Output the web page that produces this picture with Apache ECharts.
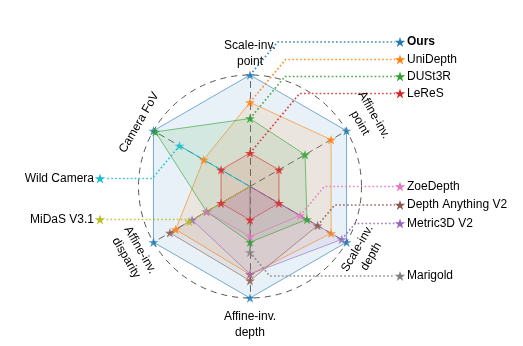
<!DOCTYPE html>
<html><head><meta charset="utf-8">
<script src="https://cdn.jsdelivr.net/npm/echarts@6/dist/echarts.min.js"></script>
<style>html,body{margin:0;padding:0;background:#fff}#c{width:523px;height:346px}</style>
</head><body><div id="c"></div>
<script>
// Axes, counter-clockwise from the top
const axisNames = ['Scale-inv.\npoint', 'Camera FoV', 'Affine-inv.\ndisparity', 'Affine-inv.\ndepth', 'Scale-inv.\ndepth', 'Affine-inv.\npoint'];
const seriesNames = ['Ours', 'UniDepth', 'DUSt3R', 'LeReS', 'ZoeDepth', 'Depth Anything V2', 'Metric3D V2', 'Marigold', 'Wild Camera', 'MiDaS V3.1'];
// values per axis (same order as axisNames); null = not evaluated
const ours            = [1.00, 1.00, 1.00, 1.00, 1.00, 1.00];
const uniDepth        = [0.755, 0.48, 0.77, 0.79, 0.84, 0.84];
const dust3r          = [0.61, 0.98, 0.45, 0.50, 0.59, 0.57];
const leres           = [0.30, 0.30, 0.30, 0.30, 0.30, 0.30];
const zoeDepth        = [null, null, 0.45, 0.45, 0.52, null];
const depthAnythingV2 = [null, null, 0.83, 0.845, 0.70, null];
const metric3dV2      = [null, null, 0.60, 0.785, 0.95, null];
const marigold        = [null, null, null, 0.59, null, null];
const wildCamera      = [null, 0.73, null, null, null, null];
const midas           = [null, null, 0.63, null, null, null];
const allValues = [ours, uniDepth, dust3r, leres, zoeDepth, depthAnythingV2, metric3dV2, marigold, wildCamera, midas];

// styling / layout
const colors = ['#1f77b4', '#ff7f0e', '#2ca02c', '#d62728', '#e377c2', '#8c564b', '#9467bd', '#7f7f7f', '#17becf', '#bcbd22'];
const CX = 250, CY = 186.5, R = 111.5;
const FONT = '12px "Liberation Sans", Arial, sans-serif';
const STAR_PTS = [[0,-10],[2.245,-3.09],[9.51,-3.09],[3.633,1.18],[5.88,8.09],[0,3.82],[-5.88,8.09],[-3.633,1.18],[-9.51,-3.09],[-2.245,-3.09]];
const STAR = 'M' + STAR_PTS.map(p => p.join(',')).join('L') + 'Z';
const labelLayout = [
  {dist: 132.5, rot: 0}, {dist: 128, rot: 60}, {dist: 135, rot: -60},
  {dist: 138.5, rot: 0}, {dist: 132, rot: 60}, {dist: 135, rot: -60}
];
// legend anchor: which axis the leader starts from, legend row y, side
const legendLayout = [
  {axis: 0, y: 42, side: 'r'}, {axis: 0, y: 59.5, side: 'r'}, {axis: 0, y: 76.5, side: 'r'}, {axis: 0, y: 93.5, side: 'r'},
  {axis: 4, y: 186.5, side: 'r'}, {axis: 4, y: 205, side: 'r'}, {axis: 4, y: 223.5, side: 'r'},
  {axis: 3, y: 276, side: 'r'}, {axis: 1, y: 178.5, side: 'l'}, {axis: 2, y: 219.5, side: 'l'}
];

const chart = echarts.init(document.getElementById('c'));
const series = [];
allValues.forEach((v, k) => {
  series.push({
    type: 'radar', name: seriesNames[k], symbol: 'none', silent: true, z: 2,
    lineStyle: {color: colors[k], width: 1, opacity: 0.6},
    areaStyle: {color: colors[k], opacity: 0.1},
    data: [{value: v.map(x => x == null ? '-' : x)}]
  });
});
allValues.forEach((v, k) => {
  series.push({
    type: 'scatter', coordinateSystem: 'polar', polarIndex: 0, silent: true, z: 5,
    symbol: 'path://' + STAR, symbolSize: [10, 9.5],
    itemStyle: {color: colors[k]},
    data: v.map((x, i) => x == null ? null : [x, i * 60]).filter(Boolean)
  });
});

chart.setOption({
  animation: false,
  radar: {
    center: [CX, CY], radius: R, startAngle: 90, shape: 'circle', splitNumber: 1,
    indicator: axisNames.map(n => ({name: n, min: 0, max: 1})),
    axisName: {show: false},
    splitLine: {lineStyle: {color: '#555', width: 1, type: [6, 5]}},
    splitArea: {show: false},
    axisLine: {lineStyle: {color: '#666', width: 1, type: [6, 5]}},
    axisTick: {show: false}, axisLabel: {show: false}
  },
  polar: {center: [CX, CY], radius: R},
  angleAxis: {type: 'value', min: 0, max: 360, startAngle: 90, clockwise: false, show: false,
    axisLine: {show: false}, splitLine: {show: false}, axisLabel: {show: false}, axisTick: {show: false}},
  radiusAxis: {type: 'value', min: 0, max: 1, show: false,
    axisLine: {show: false}, splitLine: {show: false}, axisLabel: {show: false}, axisTick: {show: false}},
  series: series
});

const graphic = [];
// axis names
axisNames.forEach((n, i) => {
  const th = i * 60 * Math.PI / 180;
  const L = labelLayout[i];
  graphic.push({
    type: 'text', x: CX - L.dist * Math.sin(th), y: CY - L.dist * Math.cos(th),
    rotation: L.rot * Math.PI / 180, silent: true, z: 100,
    style: {text: n, font: FONT, fill: '#000', align: 'center', verticalAlign: 'middle',
      textAlign: 'center', textVerticalAlign: 'middle', lineHeight: 16}
  });
});
// legend with leader lines
const SLOPE = 1.2;
allValues.forEach((v, k) => {
  const L = legendLayout[k];
  const val = v[L.axis];
  let P = null;
  try { P = chart.convertToPixel({seriesIndex: allValues.length + k}, [val, L.axis * 60]); } catch (e) {}
  if (!P || isNaN(P[0])) {
    const th = L.axis * 60 * Math.PI / 180;
    P = [CX - R * val * Math.sin(th), CY - R * val * Math.cos(th)];
  }
  const dir = L.side === 'r' ? 1 : -1;
  const starX = L.side === 'r' ? 400 : 100;
  const ex = P[0] + dir * Math.abs(L.y - P[1]) / SLOPE;
  graphic.push({
    type: 'polyline', silent: true, z: 90,
    shape: {points: [P, [ex, L.y], [starX - dir * 5, L.y]]},
    style: {stroke: colors[k], lineWidth: 1.7, lineDash: [1.7, 2.2], opacity: 0.85, fill: null}
  });
  graphic.push({
    type: 'polygon', silent: true, z: 95, x: starX, y: L.y + 0.5, scaleX: 0.55, scaleY: 0.55,
    shape: {points: STAR_PTS},
    style: {fill: colors[k]}
  });
  graphic.push({
    type: 'text', silent: true, z: 100,
    x: L.side === 'r' ? 407 : 94, y: L.y,
    style: {text: seriesNames[k], font: (k === 0 ? 'bold ' : '') + FONT, fill: '#000',
      align: L.side === 'r' ? 'left' : 'right', textAlign: L.side === 'r' ? 'left' : 'right',
      verticalAlign: 'middle', textVerticalAlign: 'middle'}
  });
});
chart.setOption({graphic: graphic});
</script>
</body></html>
